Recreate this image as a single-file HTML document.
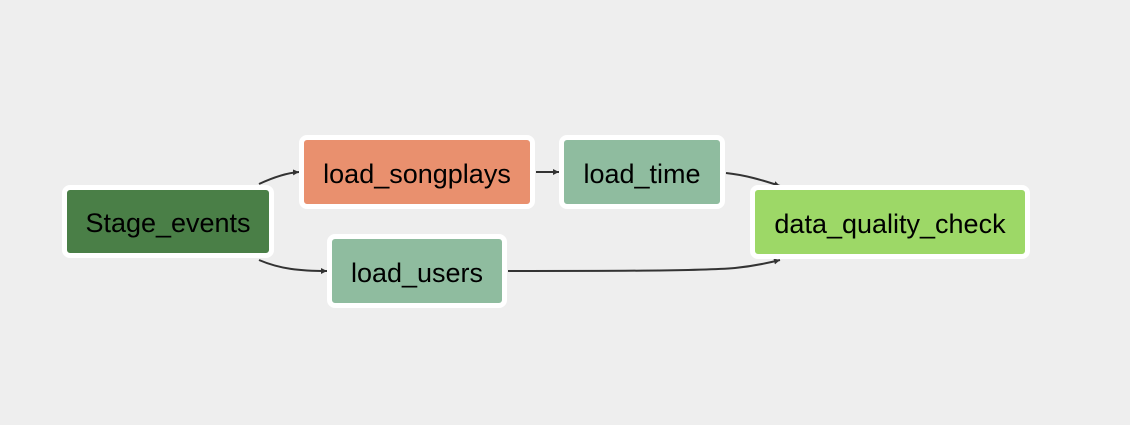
<!DOCTYPE html>
<html><head><style>
body{margin:0;width:1130px;height:425px;background:#eeeeee;position:relative;overflow:hidden;font-family:"Liberation Sans",sans-serif}
.n{position:absolute;box-sizing:border-box;border:5px solid #fff;border-radius:8px;display:flex;align-items:center;justify-content:center;font-size:27px;color:#000;padding-top:4px}
svg{position:absolute;left:0;top:0}
</style></head><body>
<svg width="1130" height="425">
<defs><marker id="a" markerWidth="8" markerHeight="8" refX="6" refY="4" orient="auto" markerUnits="userSpaceOnUse"><path d="M0,1 L6,4 L0,7z" fill="#333"/></marker></defs>
<g stroke="#333" stroke-width="2" fill="none">
<path d="M259,184 C272,178 285,173 299,172" marker-end="url(#a)"/>
<path d="M259,260 C280,269 300,271 327,271" marker-end="url(#a)"/>
<path d="M536,172 L559,172" marker-end="url(#a)"/>
<path d="M726,173 C745,175 762,180 780,186" marker-end="url(#a)"/>
<path d="M508,271 C600,271 700,271 735,268 C755,266 768,263 780,260" marker-end="url(#a)"/>
</g></svg>
<div class="n" style="left:62px;top:185px;width:212px;height:73px;background:#4a7f47">Stage_events</div>
<div class="n" style="left:299px;top:135px;width:236px;height:74px;background:#e9906e">load_songplays</div>
<div class="n" style="left:559px;top:135px;width:166px;height:74px;background:#8fbc9f">load_time</div>
<div class="n" style="left:327px;top:234px;width:180px;height:74px;background:#8fbc9f">load_users</div>
<div class="n" style="left:750px;top:185px;width:280px;height:74px;background:#9dd867">data_quality_check</div>
</body></html>
